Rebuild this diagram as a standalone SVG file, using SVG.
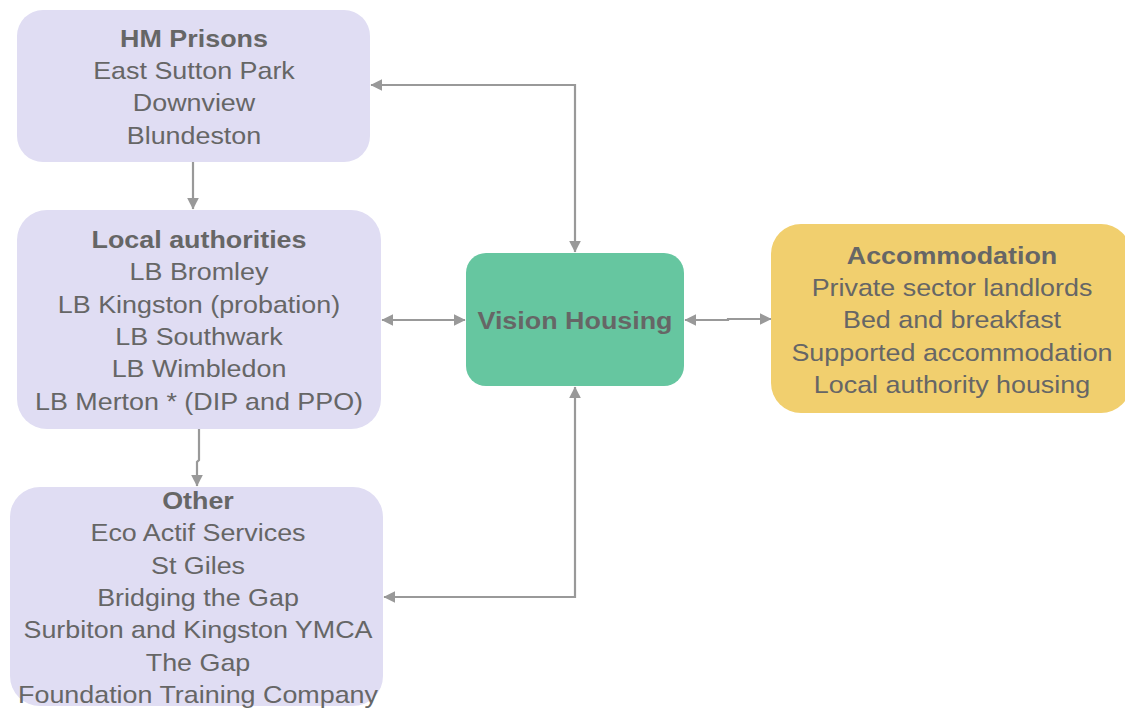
<svg xmlns="http://www.w3.org/2000/svg" width="1125" height="708" viewBox="0 0 1125 708">
  <style>
    .lav { fill: #E0DDF3; }
    .t { font-family: 'Liberation Sans', Arial, Helvetica, sans-serif; font-size: 24px; fill: #666666; text-anchor: middle; }
    .b { font-weight: bold; }
    .c { fill: none; stroke: #999999; stroke-width: 2.2; }
  </style>
  <defs>
    <marker id="ah" viewBox="0 0 10 10" refX="9.5" refY="5" markerWidth="5.5" markerHeight="5.5" orient="auto-start-reverse" markerUnits="strokeWidth">
      <path d="M0,0 L10,5 L0,10 z" fill="#999999"/>
    </marker>
  </defs>
  <rect width="1125" height="708" fill="#ffffff"/>

  <g id="connectors">
    <polyline class="c" points="371,85 575,85 575,252" marker-start="url(#ah)" marker-end="url(#ah)"/>
    <line class="c" x1="382" y1="320" x2="465" y2="320" marker-start="url(#ah)" marker-end="url(#ah)"/>
    <polyline class="c" points="685,320 728,320 728,319 771,319" marker-start="url(#ah)" marker-end="url(#ah)"/>
    <polyline class="c" points="575,387 575,597 384,597" marker-start="url(#ah)" marker-end="url(#ah)"/>
    <line class="c" x1="193" y1="162" x2="193" y2="209" marker-end="url(#ah)"/>
    <polyline class="c" points="199,429 199,460 197,462 197,486" marker-end="url(#ah)"/>
  </g>

  <!-- labels use a slightly widened sans (x scaled by 1.12) -->
  <g id="hm-prisons">
    <rect class="lav" x="17" y="10" width="353" height="152" rx="26"/>
    <g transform="translate(194 0) scale(1.12 1)">
      <text class="t b" x="0" y="47">HM Prisons</text>
      <text class="t" x="0" y="79">East Sutton Park</text>
      <text class="t" x="0" y="111">Downview</text>
      <text class="t" x="0" y="144">Blundeston</text>
    </g>
  </g>

  <g id="local-authorities">
    <rect class="lav" x="17" y="210" width="364" height="219" rx="30"/>
    <g transform="translate(199 0) scale(1.12 1)">
      <text class="t b" x="0" y="248">Local authorities</text>
      <text class="t" x="0" y="280">LB Bromley</text>
      <text class="t" x="0" y="313">LB Kingston (probation)</text>
      <text class="t" x="0" y="345">LB Southwark</text>
      <text class="t" x="0" y="377">LB Wimbledon</text>
      <text class="t" x="0" y="410">LB Merton * (DIP and PPO)</text>
    </g>
  </g>

  <g id="other">
    <rect class="lav" x="10" y="487" width="373" height="219" rx="30"/>
    <g transform="translate(198 0) scale(1.12 1)">
      <text class="t b" x="0" y="509">Other</text>
      <text class="t" x="0" y="541">Eco Actif Services</text>
      <text class="t" x="0" y="574">St Giles</text>
      <text class="t" x="0" y="606">Bridging the Gap</text>
      <text class="t" x="0" y="638">Surbiton and Kingston YMCA</text>
      <text class="t" x="0" y="671">The Gap</text>
      <text class="t" x="0" y="703">Foundation Training Company</text>
    </g>
  </g>

  <g id="vision-housing">
    <rect x="466" y="253" width="218" height="133" rx="20" fill="#66C6A0"/>
    <g transform="translate(575 0) scale(1.12 1)">
      <text class="t b" x="0" y="329">Vision Housing</text>
    </g>
  </g>

  <g id="accommodation">
    <rect x="771" y="224" width="360" height="189" rx="30" fill="#F1CF6E"/>
    <g transform="translate(952 0) scale(1.12 1)">
      <text class="t b" x="0" y="264">Accommodation</text>
      <text class="t" x="0" y="296">Private sector landlords</text>
      <text class="t" x="0" y="328">Bed and breakfast</text>
      <text class="t" x="0" y="361">Supported accommodation</text>
      <text class="t" x="0" y="393">Local authority housing</text>
    </g>
  </g>
</svg>
